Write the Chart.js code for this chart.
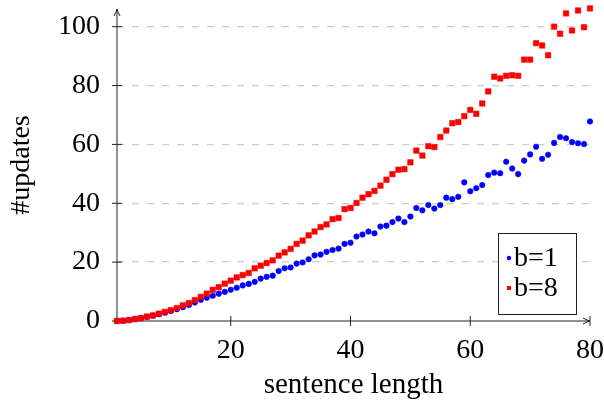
<!DOCTYPE html>
<html>
<head>
<meta charset="utf-8">
<script src="https://cdn.jsdelivr.net/npm/chart.js@4"></script>
<style>
  html, body { margin: 0; padding: 0; background: #fff; }
  canvas { display: block; }
</style>
</head>
<body>
<canvas id="myChart" width="604" height="402"></canvas>
<script>
const lengths = [1, 2, 3, 4, 5, 6, 7, 8, 9, 10, 11, 12, 13, 14, 15, 16, 17, 18, 19, 20,
  21, 22, 23, 24, 25, 26, 27, 28, 29, 30, 31, 32, 33, 34, 35, 36, 37, 38, 39, 40,
  41, 42, 43, 44, 45, 46, 47, 48, 49, 50, 51, 52, 53, 54, 55, 56, 57, 58, 59, 60,
  61, 62, 63, 64, 65, 66, 67, 68, 69, 70, 71, 72, 73, 74, 75, 76, 77, 78, 79, 80];

const updatesB1 = [0.0, 0.1, 0.3, 0.6, 1.0, 1.4, 1.8, 2.3, 2.8, 3.4,
  4.0, 4.7, 5.4, 6.3, 7.2, 7.9, 8.6, 9.3, 9.9, 10.6,
  11.3, 12.1, 12.6, 13.3, 14.4, 15.0, 15.4, 17.0, 17.9, 18.2,
  19.5, 19.9, 21.0, 22.3, 22.6, 23.5, 24.1, 24.6, 26.2, 26.6,
  28.7, 29.4, 30.4, 29.8, 32.1, 32.4, 33.6, 34.8, 33.6, 35.5,
  38.4, 37.6, 39.4, 38.2, 39.4, 41.9, 41.4, 42.2, 47.1, 44.1,
  45.1, 46.2, 49.6, 50.4, 50.2, 54.1, 51.8, 49.9, 54.5, 56.6,
  59.2, 55.1, 56.5, 60.5, 62.5, 62.1, 60.8, 60.4, 60.1, 67.8];

const updatesB8 = [0.0, 0.1, 0.3, 0.7, 1.0, 1.5, 1.9, 2.5, 3.1, 3.7,
  4.4, 5.3, 6.1, 7.1, 8.2, 9.3, 10.6, 11.5, 12.7, 13.7,
  14.8, 15.6, 16.3, 17.9, 18.8, 19.7, 20.6, 22.2, 23.3, 24.5,
  26.2, 27.3, 29.1, 30.4, 31.9, 32.8, 34.6, 35.0, 38.0, 38.4,
  40.1, 41.9, 43.1, 44.2, 46.0, 48.0, 49.9, 51.4, 51.6, 53.9,
  57.9, 56.2, 59.4, 59.1, 62.5, 64.7, 67.2, 67.6, 69.6, 71.7,
  70.4, 73.9, 78.0, 83.0, 82.4, 83.3, 83.5, 83.3, 88.8, 88.8,
  94.4, 93.6, 90.3, 100.0, 97.6, 104.5, 98.7, 105.5, 99.8, 106.2];

const seriesLabels = ['b=1', 'b=8'];
const xTicks = [20, 40, 60, 80];
const yTicks = [0, 20, 40, 60, 80, 100];

const serif = "'Liberation Serif', 'Times New Roman', serif";
Chart.defaults.font.family = serif;
Chart.defaults.font.size = 28;
Chart.defaults.color = '#000';

function points(values) {
  return lengths.map((x, i) => ({ x: x, y: values[i] }));
}

// fixed box sizes so the plot area lands where the reference has it
function fixBox(size) {
  return scale => {
    if (scale.isHorizontal()) scale.height = size; else scale.width = size;
    scale.paddingLeft = scale.paddingRight = scale.paddingTop = scale.paddingBottom = 0;
  };
}

// axis lines ending in arrows, tick marks crossing the axis
const axesPlugin = {
  id: 'axes',
  beforeDatasetsDraw(chart) {
    const { ctx, chartArea: a, scales } = chart;
    ctx.save();
    ctx.strokeStyle = '#222';
    ctx.lineWidth = 1;
    ctx.beginPath();
    ctx.moveTo(a.left, a.bottom);
    ctx.lineTo(a.left, a.top);
    ctx.moveTo(a.left, a.bottom);
    ctx.lineTo(a.right, a.bottom);
    yTicks.forEach(v => {
      const py = scales.y.getPixelForValue(v);
      ctx.moveTo(a.left - 5, py);
      ctx.lineTo(a.left + 5, py);
    });
    xTicks.forEach(v => {
      const px = scales.x.getPixelForValue(v);
      ctx.moveTo(px, a.bottom - 5);
      ctx.lineTo(px, a.bottom + 5);
    });
    ctx.stroke();

    // arrow tips
    ctx.beginPath();
    ctx.moveTo(a.left - 3, a.top + 7);
    ctx.quadraticCurveTo(a.left - 0.5, a.top + 2.5, a.left, a.top);
    ctx.quadraticCurveTo(a.left + 0.5, a.top + 2.5, a.left + 3, a.top + 7);
    ctx.moveTo(a.right - 7, a.bottom - 3);
    ctx.quadraticCurveTo(a.right - 2.5, a.bottom - 0.5, a.right, a.bottom);
    ctx.quadraticCurveTo(a.right - 2.5, a.bottom + 0.5, a.right - 7, a.bottom + 3);
    ctx.stroke();
    ctx.restore();
  }
};

// boxed legend in the lower right corner of the plot
const boxLegend = {
  id: 'boxLegend',
  afterDatasetsDraw(chart) {
    const { ctx, chartArea: a } = chart;
    const w = 78, h = 81;
    const left = a.right - 14 - w;
    const top = a.bottom - 7 - h;
    ctx.save();
    ctx.fillStyle = '#fff';
    ctx.fillRect(left, top, w, h);
    ctx.strokeStyle = '#222';
    ctx.lineWidth = 1;
    ctx.strokeRect(left + 0.5, top + 0.5, w, h);

    ctx.font = '28px ' + serif;
    ctx.textBaseline = 'middle';
    ctx.textAlign = 'left';
    chart.data.datasets.forEach((ds, i) => {
      const cy = top + 25 + i * 30;
      ctx.fillStyle = ds.backgroundColor;
      if (ds.pointStyle === 'rect') {
        ctx.fillRect(left + 9, cy - 2, 4, 4);
      } else {
        ctx.beginPath();
        ctx.arc(left + 11, cy, 2.2, 0, Math.PI * 2);
        ctx.fill();
      }
      ctx.fillStyle = '#000';
      ctx.fillText(seriesLabels[i], left + 16, cy + 1);
    });
    ctx.restore();
  }
};

const ctx = document.getElementById('myChart');

const chart = new Chart(ctx, {
  type: 'line',
  data: {
    datasets: [{
      label: seriesLabels[0],
      data: points(updatesB1),
      showLine: false,
      pointStyle: 'circle',
      pointRadius: 2.8,
      pointBorderWidth: 0.5,
      borderColor: '#0000ff',
      backgroundColor: '#0000ff',
      order: 1
    },
    {
      label: seriesLabels[1],
      data: points(updatesB8),
      showLine: false,
      pointStyle: 'rect',
      pointRadius: 3.9,
      pointBorderWidth: 0.5,
      borderColor: '#ee0000',
      backgroundColor: '#ff0000',
      order: 0
    }]
  },
  options: {
    responsive: false,
    animation: false,
    devicePixelRatio: 1,
    clip: false,
    layout: {
      padding: { left: 0, right: 14, top: 9, bottom: 0 }
    },
    plugins: {
      legend: { display: false },
      tooltip: { enabled: false }
    },
    scales: {
      x: {
        type: 'linear',
        min: 1,
        max: 80,
        afterBuildTicks: scale => { scale.ticks = xTicks.map(v => ({ value: v })); },
        afterFit: fixBox(81),
        grid: { display: false },
        border: { display: false },
        ticks: { padding: 5, maxRotation: 0 },
        title: {
          display: true,
          text: 'sentence length',
          font: { size: 29, lineHeight: 1 },
          padding: { top: 0, bottom: 2 }
        }
      },
      y: {
        type: 'linear',
        min: 0,
        max: 106,
        afterBuildTicks: scale => { scale.ticks = yTicks.map(v => ({ value: v })); },
        afterFit: fixBox(117),
        grid: {
          drawTicks: false,
          color: c => c.tick && c.tick.value === 0 ? 'rgba(0,0,0,0)' : '#cccccc',
          lineWidth: 1.3
        },
        border: { display: false, dash: [7, 8] },
        ticks: { padding: 17 },
        title: {
          display: true,
          text: '#updates',
          font: { size: 28, lineHeight: 1 },
          padding: { top: 8, bottom: 0 }
        }
      }
    }
  },
  plugins: [axesPlugin, boxLegend]
});
</script>
</body>
</html>
